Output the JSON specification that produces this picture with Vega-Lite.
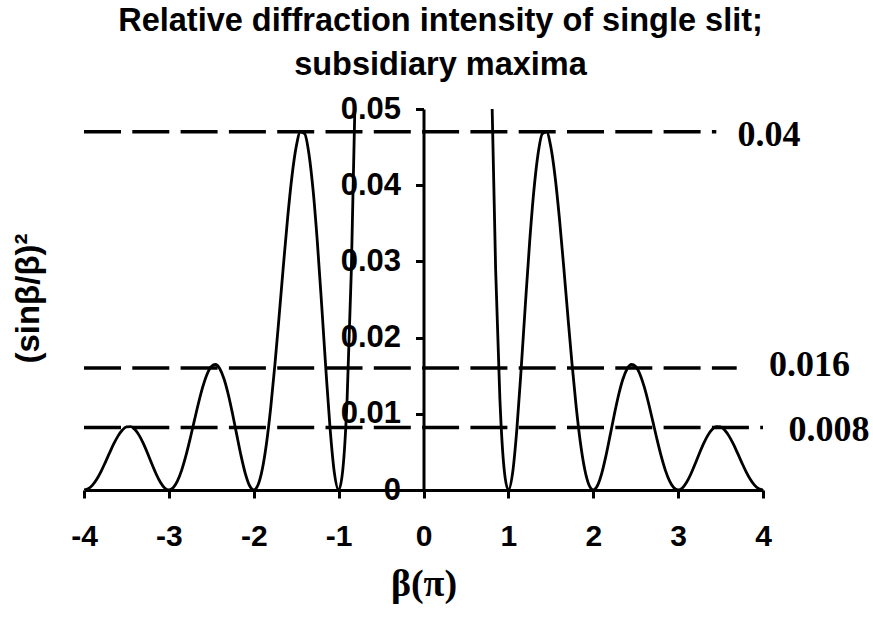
{
  "$schema": "https://vega.github.io/schema/vega-lite/v6.json",
  "width": 679,
  "height": 381,
  "autosize": "none",
  "padding": {"left": 84, "top": 109, "right": 110, "bottom": 131},
  "background": "white",
  "config": {
    "view": {"stroke": null},
    "axis": {"grid": false, "domainColor": "black", "tickColor": "black", "labelColor": "black", "titleColor": "black"}
  },
  "title": {
    "text": ["Relative diffraction intensity of single slit;", "subsidiary maxima"],
    "anchor": "middle",
    "font": "Liberation Sans",
    "fontSize": 32.5,
    "fontWeight": "bold",
    "lineHeight": 44,
    "color": "black",
    "offset": 12,
    "dx": 17
  },
  "datasets": {
    "curve": [
      {"x": -4.00, "y": 0, "branch": "L"},
      {"x": -3.95, "y": 0.00015892, "branch": "L"},
      {"x": -3.90, "y": 0.00063612, "branch": "L"},
      {"x": -3.85, "y": 0.0014089, "branch": "L"},
      {"x": -3.80, "y": 0.0024242, "branch": "L"},
      {"x": -3.75, "y": 0.0036025, "branch": "L"},
      {"x": -3.70, "y": 0.0048441, "branch": "L"},
      {"x": -3.65, "y": 0.0060378, "branch": "L"},
      {"x": -3.60, "y": 0.0070715, "branch": "L"},
      {"x": -3.55, "y": 0.0078430, "branch": "L"},
      {"x": -3.50, "y": 0.0082711, "branch": "L"},
      {"x": -3.45, "y": 0.0083043, "branch": "L"},
      {"x": -3.40, "y": 0.0079278, "branch": "L"},
      {"x": -3.35, "y": 0.0071676, "branch": "L"},
      {"x": -3.30, "y": 0.0060896, "branch": "L"},
      {"x": -3.25, "y": 0.0047963, "branch": "L"},
      {"x": -3.20, "y": 0.0034185, "branch": "L"},
      {"x": -3.15, "y": 0.0021046, "branch": "L"},
      {"x": -3.10, "y": 0.0010068, "branch": "L"},
      {"x": -3.05, "y": 0.00026654, "branch": "L"},
      {"x": -3.00, "y": 0, "branch": "L"},
      {"x": -2.95, "y": 0.00028492, "branch": "L"},
      {"x": -2.90, "y": 0.0011505, "branch": "L"},
      {"x": -2.85, "y": 0.0025710, "branch": "L"},
      {"x": -2.80, "y": 0.0044650, "branch": "L"},
      {"x": -2.75, "y": 0.0066989, "branch": "L"},
      {"x": -2.70, "y": 0.0090967, "branch": "L"},
      {"x": -2.65, "y": 0.011454, "branch": "L"},
      {"x": -2.60, "y": 0.013557, "branch": "L"},
      {"x": -2.55, "y": 0.015200, "branch": "L"},
      {"x": -2.50, "y": 0.016211, "branch": "L"},
      {"x": -2.45, "y": 0.016467, "branch": "L"},
      {"x": -2.40, "y": 0.015911, "branch": "L"},
      {"x": -2.35, "y": 0.014566, "branch": "L"},
      {"x": -2.30, "y": 0.012536, "branch": "L"},
      {"x": -2.25, "y": 0.010007, "branch": "L"},
      {"x": -2.20, "y": 0.0072326, "branch": "L"},
      {"x": -2.15, "y": 0.0045177, "branch": "L"},
      {"x": -2.10, "y": 0.0021940, "branch": "L"},
      {"x": -2.05, "y": 0.00059001, "branch": "L"},
      {"x": -2.00, "y": 0, "branch": "L"},
      {"x": -1.95, "y": 0.00065208, "branch": "L"},
      {"x": -1.90, "y": 0.0026801, "branch": "L"},
      {"x": -1.85, "y": 0.0061017, "branch": "L"},
      {"x": -1.80, "y": 0.010804, "branch": "L"},
      {"x": -1.75, "y": 0.016542, "branch": "L"},
      {"x": -1.70, "y": 0.022946, "branch": "L"},
      {"x": -1.65, "y": 0.029546, "branch": "L"},
      {"x": -1.60, "y": 0.035799, "branch": "L"},
      {"x": -1.55, "y": 0.041141, "branch": "L"},
      {"x": -1.50, "y": 0.045032, "branch": "L"},
      {"x": -1.45, "y": 0.047011, "branch": "L"},
      {"x": -1.40, "y": 0.046758, "branch": "L"},
      {"x": -1.35, "y": 0.044136, "branch": "L"},
      {"x": -1.30, "y": 0.039240, "branch": "L"},
      {"x": -1.25, "y": 0.032423, "branch": "L"},
      {"x": -1.20, "y": 0.024309, "branch": "L"},
      {"x": -1.15, "y": 0.015791, "branch": "L"},
      {"x": -1.10, "y": 0.0079962, "branch": "L"},
      {"x": -1.05, "y": 0.0022490, "branch": "L"},
      {"x": -1.00, "y": 0, "branch": "L"},
      {"x": -0.95, "y": 0.0027474, "branch": "L"},
      {"x": -0.90, "y": 0.011945, "branch": "L"},
      {"x": -0.85, "y": 0.028904, "branch": "L"},
      {"x": -0.80, "y": 0.054696, "branch": "L"},
      {"x": -0.75, "y": 0.090063, "branch": "L"},
      {"x": 0.75, "y": 0.090063, "branch": "R"},
      {"x": 0.80, "y": 0.054696, "branch": "R"},
      {"x": 0.85, "y": 0.028904, "branch": "R"},
      {"x": 0.90, "y": 0.011945, "branch": "R"},
      {"x": 0.95, "y": 0.0027474, "branch": "R"},
      {"x": 1.00, "y": 0, "branch": "R"},
      {"x": 1.05, "y": 0.0022490, "branch": "R"},
      {"x": 1.10, "y": 0.0079962, "branch": "R"},
      {"x": 1.15, "y": 0.015791, "branch": "R"},
      {"x": 1.20, "y": 0.024309, "branch": "R"},
      {"x": 1.25, "y": 0.032423, "branch": "R"},
      {"x": 1.30, "y": 0.039240, "branch": "R"},
      {"x": 1.35, "y": 0.044136, "branch": "R"},
      {"x": 1.40, "y": 0.046758, "branch": "R"},
      {"x": 1.45, "y": 0.047011, "branch": "R"},
      {"x": 1.50, "y": 0.045032, "branch": "R"},
      {"x": 1.55, "y": 0.041141, "branch": "R"},
      {"x": 1.60, "y": 0.035799, "branch": "R"},
      {"x": 1.65, "y": 0.029546, "branch": "R"},
      {"x": 1.70, "y": 0.022946, "branch": "R"},
      {"x": 1.75, "y": 0.016542, "branch": "R"},
      {"x": 1.80, "y": 0.010804, "branch": "R"},
      {"x": 1.85, "y": 0.0061017, "branch": "R"},
      {"x": 1.90, "y": 0.0026801, "branch": "R"},
      {"x": 1.95, "y": 0.00065208, "branch": "R"},
      {"x": 2.00, "y": 0, "branch": "R"},
      {"x": 2.05, "y": 0.00059001, "branch": "R"},
      {"x": 2.10, "y": 0.0021940, "branch": "R"},
      {"x": 2.15, "y": 0.0045177, "branch": "R"},
      {"x": 2.20, "y": 0.0072326, "branch": "R"},
      {"x": 2.25, "y": 0.010007, "branch": "R"},
      {"x": 2.30, "y": 0.012536, "branch": "R"},
      {"x": 2.35, "y": 0.014566, "branch": "R"},
      {"x": 2.40, "y": 0.015911, "branch": "R"},
      {"x": 2.45, "y": 0.016467, "branch": "R"},
      {"x": 2.50, "y": 0.016211, "branch": "R"},
      {"x": 2.55, "y": 0.015200, "branch": "R"},
      {"x": 2.60, "y": 0.013557, "branch": "R"},
      {"x": 2.65, "y": 0.011454, "branch": "R"},
      {"x": 2.70, "y": 0.0090967, "branch": "R"},
      {"x": 2.75, "y": 0.0066989, "branch": "R"},
      {"x": 2.80, "y": 0.0044650, "branch": "R"},
      {"x": 2.85, "y": 0.0025710, "branch": "R"},
      {"x": 2.90, "y": 0.0011505, "branch": "R"},
      {"x": 2.95, "y": 0.00028492, "branch": "R"},
      {"x": 3.00, "y": 0, "branch": "R"},
      {"x": 3.05, "y": 0.00026654, "branch": "R"},
      {"x": 3.10, "y": 0.0010068, "branch": "R"},
      {"x": 3.15, "y": 0.0021046, "branch": "R"},
      {"x": 3.20, "y": 0.0034185, "branch": "R"},
      {"x": 3.25, "y": 0.0047963, "branch": "R"},
      {"x": 3.30, "y": 0.0060896, "branch": "R"},
      {"x": 3.35, "y": 0.0071676, "branch": "R"},
      {"x": 3.40, "y": 0.0079278, "branch": "R"},
      {"x": 3.45, "y": 0.0083043, "branch": "R"},
      {"x": 3.50, "y": 0.0082711, "branch": "R"},
      {"x": 3.55, "y": 0.0078430, "branch": "R"},
      {"x": 3.60, "y": 0.0070715, "branch": "R"},
      {"x": 3.65, "y": 0.0060378, "branch": "R"},
      {"x": 3.70, "y": 0.0048441, "branch": "R"},
      {"x": 3.75, "y": 0.0036025, "branch": "R"},
      {"x": 3.80, "y": 0.0024242, "branch": "R"},
      {"x": 3.85, "y": 0.0014089, "branch": "R"},
      {"x": 3.90, "y": 0.00063612, "branch": "R"},
      {"x": 3.95, "y": 0.00015892, "branch": "R"},
      {"x": 4.00, "y": 0, "branch": "R"}
    ],
    "refs": [
      {"x": -4, "x2": 3.45, "y": 0.047},
      {"x": -4, "x2": 3.69, "y": 0.016},
      {"x": -4, "x2": 4.0, "y": 0.0082}
    ],
    "labels": [
      {"x": 3.70, "y": 0.0466, "label": "0.04"},
      {"x": 4.07, "y": 0.0164, "label": "0.016"},
      {"x": 4.30, "y": 0.0079, "label": "0.008"}
    ]
  },
  "encoding": {
    "x": {
      "field": "x",
      "type": "quantitative",
      "scale": {"domain": [-4, 4], "nice": false, "zero": false},
      "axis": {
        "values": [-4, -3, -2, -1, 0, 1, 2, 3, 4],
        "labelExpr": "'' + datum.value",
        "labelFlush": false,
        "labelOverlap": false,
        "labelFont": "Liberation Sans",
        "labelFontSize": 30,
        "labelFontWeight": "bold",
        "labelPadding": 23,
        "tickSize": 8,
        "tickWidth": 3,
        "domainWidth": 3,
        "title": "β(π)",
        "titleFont": "Liberation Serif",
        "titleFontSize": 38,
        "titleFontWeight": "bold",
        "titlePadding": 14
      }
    },
    "y": {
      "field": "y",
      "type": "quantitative",
      "scale": {"domain": [0, 0.05], "nice": false},
      "axis": {
        "orient": "left",
        "offset": -339.5,
        "values": [0, 0.01, 0.02, 0.03, 0.04, 0.05],
        "format": "~g",
        "labelOverlap": false,
        "labelFont": "Liberation Sans",
        "labelFontSize": 31,
        "labelFontWeight": "bold",
        "labelPadding": 15,
        "tickSize": 8,
        "tickWidth": 3,
        "domainWidth": 3,
        "title": "(sinβ/β)²",
        "titleFont": "Liberation Sans",
        "titleFontSize": 33,
        "titleFontWeight": "bold",
        "titleAngle": -90,
        "titleAlign": "center",
        "titleBaseline": "middle",
        "titleX": -395,
        "titleY": 189
      }
    }
  },
  "layer": [
    {
      "data": {"name": "refs"},
      "mark": {"type": "rule", "strokeDash": [37, 11.3], "strokeWidth": 3.5, "color": "black"},
      "encoding": {"x2": {"field": "x2"}}
    },
    {
      "data": {"name": "curve"},
      "mark": {"type": "line", "interpolate": "monotone", "clip": true, "color": "black", "strokeWidth": 2.8},
      "encoding": {"detail": {"field": "branch"}}
    },
    {
      "data": {"name": "labels"},
      "mark": {"type": "text", "align": "left", "baseline": "middle", "font": "Liberation Serif", "fontWeight": "bold", "fontSize": 36, "color": "black"},
      "encoding": {"text": {"field": "label"}}
    }
  ]
}
